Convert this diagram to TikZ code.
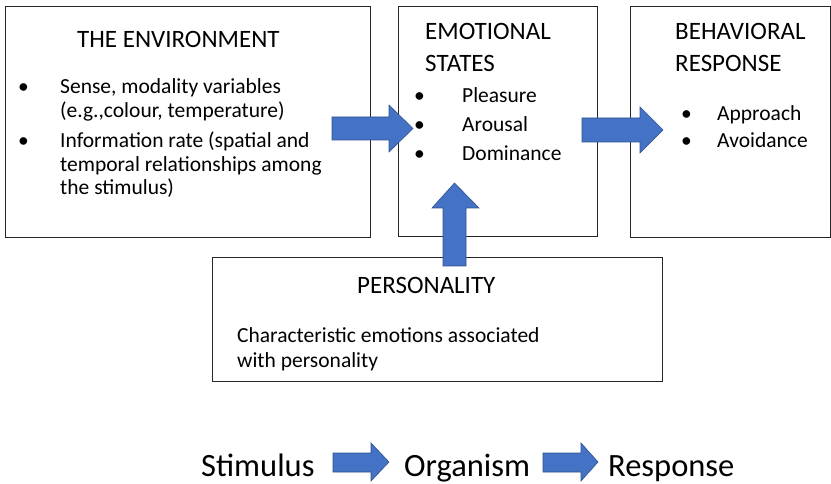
\documentclass[tikz,border=0pt]{standalone}
\usepackage{fontspec}
\setmainfont{Carlito}
\definecolor{arrowblue}{HTML}{4472C4}
\definecolor{arrowedge}{HTML}{2F528F}
\begin{document}
\begin{tikzpicture}[x=1pt,y=-1pt,
  box/.style={draw=black!85,line width=1.1pt,fill=none,inner sep=0pt,anchor=north west},
  head/.style={anchor=base west,inner sep=0pt,font=\fontsize{25}{30}\selectfont},
  body/.style={anchor=base west,inner sep=0pt,font=\fontsize{21.5}{26}\selectfont},
  big/.style={anchor=base west,inner sep=0pt,font=\fontsize{32.5}{38}\selectfont},
  blockarrow/.style={fill=arrowblue,draw=arrowedge,line width=0.6pt,line join=miter}]
\useasboundingbox (0,0) rectangle (831,484);
% boxes
\node[box,minimum width=365pt,minimum height=231pt] (env) at (5,6) {};
\node[box,minimum width=199pt,minimum height=230pt] (emo) at (398,6) {};
\node[box,minimum width=200pt,minimum height=231pt] (beh) at (630,6) {};
\node[box,minimum width=450pt,minimum height=124pt] (pers) at (212,257) {};
% environment text
\node[head] (envt) at (77,48) {THE ENVIRONMENT};
\node[body] (eb1) at (18,94) {•};
\node[body] (e1) at (60,94) {Sense, modality variables};
\node[body] (e2) at (60,117.5) {(e.g.,colour, temperature)};
\node[body] (eb2) at (18,148) {•};
\node[body] (e3) at (60,148) {Information rate (spatial and};
\node[body] (e4) at (60,171.5) {temporal relationships among};
\node[body] (e5) at (60,195) {the stimulus)};
% emotional states
\node[head] (emot1) at (425,40) {EMOTIONAL};
\node[head] (emot2) at (425,72) {STATES};
\node[body] (mb1) at (414,103) {•};
\node[body] (m1) at (462,103) {Pleasure};
\node[body] (mb2) at (414,132) {•};
\node[body] (m2) at (462,132) {Arousal};
\node[body] (mb3) at (414,161) {•};
\node[body] (m3) at (462,161) {Dominance};
% behavioral response
\node[head] (beht1) at (675,40) {BEHAVIORAL};
\node[head] (beht2) at (675,72) {RESPONSE};
\node[body] (bb1) at (681,121) {•};
\node[body] (b1) at (717,121) {Approach};
\node[body] (bb2) at (681,148) {•};
\node[body] (b2) at (717,148) {Avoidance};
% personality
\node[head] (perst) at (357,294) {PERSONALITY};
\node[body] (p1) at (237,342) {Characteristic emotions associated};
\node[body] (p2) at (237,367) {with personality};
% bottom line
\node[big] (stim) at (201,476) {Stimulus};
\node[big] (org) at (404,476) {Organism};
\node[big] (resp) at (608,476) {Response};
% block arrows
\draw[blockarrow] (332,117) -- (389,117) -- (389,105) -- (413,128.5) -- (389,152) -- (389,140) -- (332,140) -- cycle;
\draw[blockarrow] (582,118) -- (640,118) -- (640,107) -- (663,130) -- (640,153) -- (640,142) -- (582,142) -- cycle;
\draw[blockarrow] (443,266) -- (443,208) -- (432,208) -- (454.5,183) -- (479,208) -- (466,208) -- (466,266) -- cycle;
\draw[blockarrow] (333,453) -- (371,453) -- (371,443) -- (389,462) -- (371,481) -- (371,472) -- (333,472) -- cycle;
\draw[blockarrow] (543,453) -- (581,453) -- (581,443) -- (598,462) -- (581,481) -- (581,472) -- (543,472) -- cycle;
\end{tikzpicture}
\end{document}
